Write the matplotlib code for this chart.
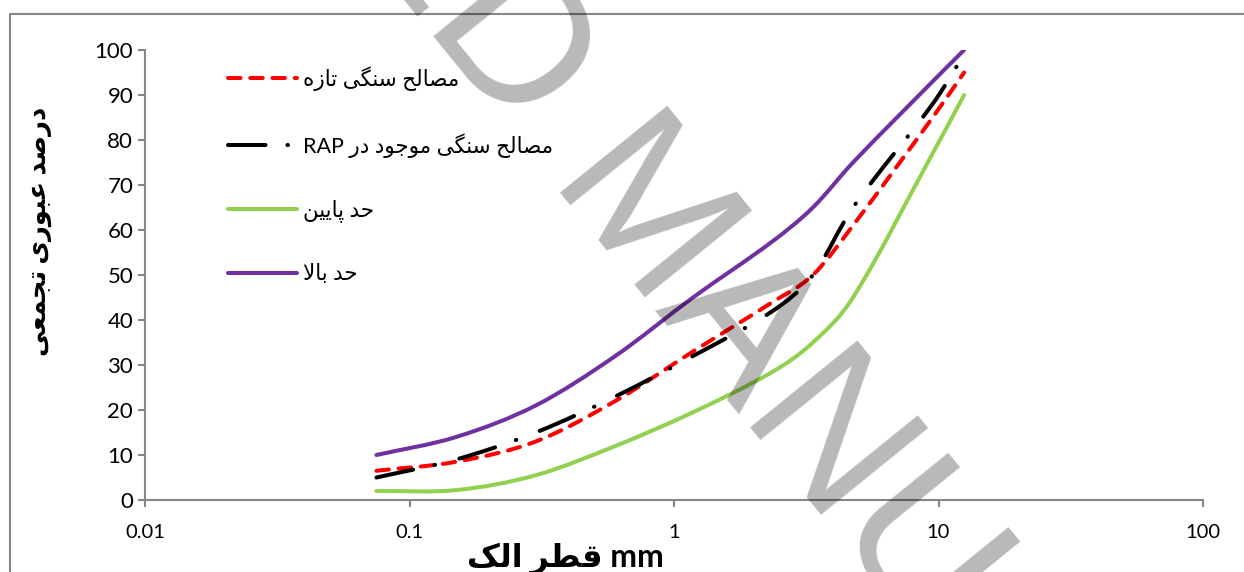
import numpy as np
import matplotlib
matplotlib.use("Agg")
import matplotlib.pyplot as plt
from matplotlib.path import Path
from matplotlib.patches import PathPatch
from matplotlib.lines import Line2D

plt.rcParams['font.family'] = ['Lato', 'DejaVu Sans']
plt.rcParams['lines.scale_dashes'] = False

### data
sieve = [0.075, 0.15, 0.3, 0.6, 1.18, 2.36, 3.35, 4.75, 9.5, 12.5]
fresh = [6.5, 8.5, 13, 22, 33, 44, 50, 61, 85, 95]
rap = [5, 9, 15, 23, 32, 42, 50, 65, 88, 99]
lower = [2, 2.2, 5.5, 12, 19.5, 28.5, 35, 45, 77, 90]
upper = [10, 14, 21, 32, 45, 57.5, 65, 75, 93, 100]

xticks = [0.01, 0.1, 1, 10, 100]
xticklabels = ['0.01', '0.1', '1', '10', '100']
yticks = list(range(0, 101, 10))

### minimal persian shaping (presentation forms, visual order)
AR_FORMS = {
    'ا': ('\ufe8d', '\ufe8e', None, None),
    'ب': ('\ufe8f', '\ufe90', '\ufe91', '\ufe92'),
    'پ': ('\ufb56', '\ufb57', '\ufb58', '\ufb59'),
    'ت': ('\ufe95', '\ufe96', '\ufe97', '\ufe98'),
    'ج': ('\ufe9d', '\ufe9e', '\ufe9f', '\ufea0'),
    'ح': ('\ufea1', '\ufea2', '\ufea3', '\ufea4'),
    'د': ('\ufea9', '\ufeaa', None, None),
    'ر': ('\ufead', '\ufeae', None, None),
    'ز': ('\ufeaf', '\ufeb0', None, None),
    'س': ('\ufeb1', '\ufeb2', '\ufeb3', '\ufeb4'),
    'ص': ('\ufeb9', '\ufeba', '\ufebb', '\ufebc'),
    'ط': ('\ufec1', '\ufec2', '\ufec3', '\ufec4'),
    'ع': ('\ufec9', '\ufeca', '\ufecb', '\ufecc'),
    'ق': ('\ufed5', '\ufed6', '\ufed7', '\ufed8'),
    'ک': ('\ufb8e', '\ufb8f', '\ufb90', '\ufb91'),
    'گ': ('\ufb92', '\ufb93', '\ufb94', '\ufb95'),
    'ل': ('\ufedd', '\ufede', '\ufedf', '\ufee0'),
    'م': ('\ufee1', '\ufee2', '\ufee3', '\ufee4'),
    'ن': ('\ufee5', '\ufee6', '\ufee7', '\ufee8'),
    'ه': ('\ufee9', '\ufeea', '\ufeeb', '\ufeec'),
    'و': ('\ufeed', '\ufeee', None, None),
    'ی': ('\ufbfc', '\ufbfd', '\ufbfe', '\ufbff'),
}

def joins_next(c):
    return c in AR_FORMS and AR_FORMS[c][2] is not None

def farsi(text):
    out = []
    i = 0
    n = len(text)
    while i < n:
        c = text[i]
        if c not in AR_FORMS:
            out.append(c)
            i += 1
            continue
        link_prev = i > 0 and joins_next(text[i - 1])
        if c == 'ل' and i + 1 < n and text[i + 1] == 'ا':
            out.append('\ufefc' if link_prev else '\ufefb')
            i += 2
            continue
        nxt = text[i + 1] if i + 1 < n else ''
        link_next = joins_next(c) and nxt in AR_FORMS
        iso, fin, ini, med = AR_FORMS[c]
        if link_prev and link_next:
            out.append(med)
        elif link_prev:
            out.append(fin)
        elif link_next:
            out.append(ini)
        else:
            out.append(iso)
        i += 1
    return ''.join(out)[::-1]

labels = [farsi('مصالح سنگی تازه'),
          'RAP ' + farsi('مصالح سنگی موجود در'),
          farsi('حد پایین'),
          farsi('حد بالا')]

### smoothed curve (cubic hermite bezier through the points, in log-x space)
def smooth_path(xs, ys):
    lx = np.log10(xs)
    ys = np.asarray(ys, float)
    n = len(lx)
    m = np.zeros(n)
    for i in range(n):
        a = max(i - 1, 0)
        b = min(i + 1, n - 1)
        m[i] = (ys[b] - ys[a]) / (lx[b] - lx[a])
    verts = [(lx[0], ys[0])]
    codes = [Path.MOVETO]
    for i in range(n - 1):
        h = lx[i + 1] - lx[i]
        verts += [(lx[i] + h / 3, ys[i] + m[i] * h / 3),
                  (lx[i + 1] - h / 3, ys[i + 1] - m[i + 1] * h / 3),
                  (lx[i + 1], ys[i + 1])]
        codes += [Path.CURVE4] * 3
    verts = np.array(verts)
    verts[:, 0] = 10 ** verts[:, 0]
    return Path(verts, codes)

fig = plt.figure(figsize=(12.44, 5.72), dpi=100)
ax = fig.add_axes([145 / 1244, 72 / 572, 1058 / 1244, 450 / 572])
ax.set_xscale('log')
ax.set_xlim(0.01, 100)
ax.set_ylim(0, 100)

lw = 2.9
styles = [
    dict(color='#ff0000', linestyle=(0, (9, 7))),
    dict(color='#000000', linestyle=(0, (27, 15.8, 0.4, 18))),
    dict(color='#92d050', linestyle='-'),
    dict(color='#7030a0', linestyle='-'),
]
series = [fresh, rap, lower, upper]
order = [2, 3, 0, 1]
for k in order:
    st = styles[k]
    patch = PathPatch(smooth_path(sieve, series[k]), facecolor='none', edgecolor=st['color'],
                      lw=lw, linestyle=st['linestyle'], capstyle='round', zorder=3 + k)
    ax.add_patch(patch)

handles = []
for st in styles:
    h = Line2D([], [], color=st['color'], lw=lw, linestyle=st['linestyle'],
               dash_capstyle='round', solid_capstyle='round')
    handles.append(h)
leg = ax.legend(handles, labels, loc='upper left', bbox_to_anchor=(0.06, 1.007),
                frameon=False, fontsize=15.5, handlelength=3.2, handletextpad=0.3,
                labelspacing=1.95)

ax.set_xticks(xticks)
ax.set_xticklabels(xticklabels)
ax.xaxis.set_minor_locator(matplotlib.ticker.NullLocator())
ax.set_yticks(yticks)
ax.tick_params(axis='both', labelsize=16, length=5, width=1.5, color='#868686', direction='out')
ax.tick_params(axis='x', labelsize=14.5, pad=12)
for s in ['top', 'right']:
    ax.spines[s].set_visible(False)
for s in ['left', 'bottom']:
    ax.spines[s].set_color('#868686')
    ax.spines[s].set_linewidth(1.5)

ax.set_xlabel(farsi('قطر الک') + ' mm', fontsize=23, fontweight='bold')
ax.xaxis.set_label_coords(0.397, -0.094)
ax.set_ylabel(farsi('درصد عبوری تجمعی'), fontsize=18.5, fontweight='bold')
ax.yaxis.set_label_coords(-0.099, 0.598)
ax.yaxis.label.set_va('center')

# chart frame
fig.add_artist(Line2D([10 / 1244, 10 / 1244, 1.0], [0, 558 / 572, 558 / 572],
                      transform=fig.transFigure, color='#878787', lw=1.5))

# watermark
fig.text(-176 / 1244, 1288 / 572, 'ACCEPTED MANUSCRIPT', fontsize=145, family='Liberation Sans',
         rotation=-51, rotation_mode='anchor', ha='left', va='baseline',
         color='black', alpha=0.28, zorder=20)

fig.savefig('out.png', dpi=100)
